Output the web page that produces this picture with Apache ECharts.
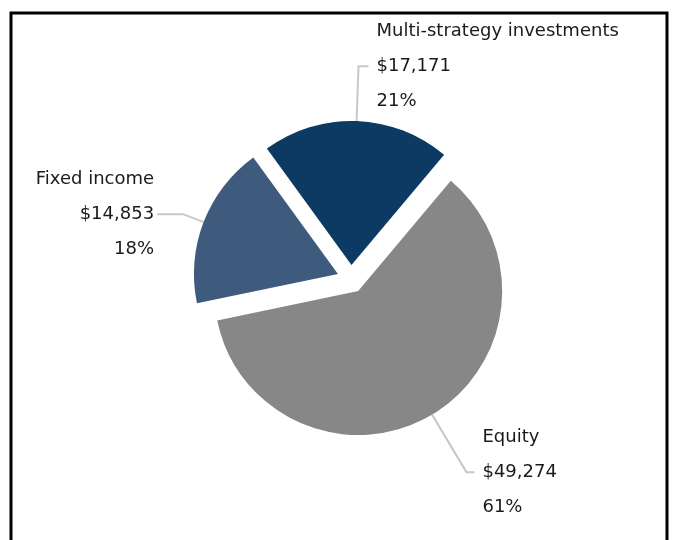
<!DOCTYPE html>
<html>
<head>
<meta charset="utf-8">
<title>Pie</title>
<script src="https://cdn.jsdelivr.net/npm/echarts@6/dist/echarts.min.js"></script>
<style>
    html, body { margin: 0; padding: 0; background: #fff; }
    #chart { width: 678px; height: 540px; }
</style>
</head>
<body>
<div id="chart"></div>
<script>
// data
var names = ['Multi-strategy investments', 'Equity', 'Fixed income'];
var values = [17171, 49274, 14853];
var colors = ['#0c3a62', '#878787', '#3e5a7c'];
var lineLengths = [55, 67, 22];
var lineLengths2 = [10, 8, 26];
var labelGaps = [8, 8, 3];

function money(v) {
    return '$' + v.toLocaleString('en-US');
}

var pieData = [];
for (var i = 0; i < names.length; i++) {
    pieData.push({
        name: names[i],
        value: values[i],
        selected: true,
        itemStyle: { color: colors[i] },
        label: { distanceToLabelLine: labelGaps[i] },
        labelLine: { length: lineLengths[i], length2: lineLengths2[i] }
    });
}

var myChart = echarts.init(document.getElementById('chart'));
var option = {
    backgroundColor: '#fff',
    animation: false,
    graphic: [{
        type: 'rect',
        shape: { x: 11, y: 13, width: 656, height: 600 },
        style: { fill: 'none', stroke: '#000', lineWidth: 3 },
        silent: true
    }],
    series: [{
        type: 'pie',
        center: [351, 279],
        radius: 144,
        startAngle: 126,
        clockwise: true,
        selectedMode: 'multiple',
        selectedOffset: 14,
        avoidLabelOverlap: false,
        emphasis: { disabled: true },
        label: {
            show: true,
            position: 'outside',
            alignTo: 'none',
            overflow: 'none',
            color: '#1a1a1a',
            fontFamily: 'DejaVu Sans',
            fontSize: 18,
            lineHeight: 35,
            formatter: function (p) {
                return p.name + '\n' + money(p.value) + '\n' + Math.round(p.percent) + '%';
            }
        },
        labelLine: {
            show: true,
            lineStyle: { color: '#c8c8c8', width: 2 }
        },
        data: pieData
    }]
};
myChart.setOption(option);
</script>
</body>
</html>
